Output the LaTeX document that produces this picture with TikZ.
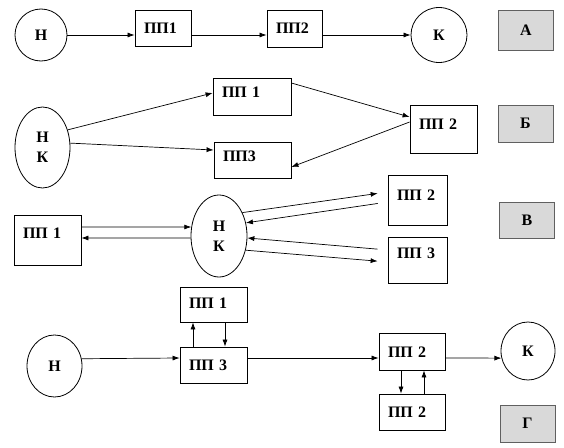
\documentclass[tikz,border=0pt]{standalone}
\usepackage{fontspec}
\setmainfont{Liberation Serif}
\usetikzlibrary{arrows.meta,shapes.geometric}

\tikzset{
  pp/.style n args={3}{draw, line width=0.8pt, inner xsep=9pt, inner ysep=0pt, align=left,
    text width=#1, text height=#2, text depth=#3},
  ell/.style={draw, line width=0.8pt, ellipse, inner sep=0pt, align=center},
  tag/.style={draw=gray!75!black, line width=0.8pt, fill=gray!30, inner sep=0pt},
  arr/.style={-{Latex[length=7pt,width=5pt]}, line width=0.7pt}
}

\begin{document}
\begin{tikzpicture}[x=1pt, y=-1pt, every node/.style={font=\bfseries\fontsize{16}{20}\selectfont}]
            \fill[white] (0,0) rectangle (564,447);

            % Row A
            \node[ell, minimum width=52pt, minimum height=52pt] (hA) at (41,35) {Н};
            \node[pp={38pt}{23pt}{13pt}] (p1A) at (163,28) {ПП1};
            \node[pp={37pt}{23.5pt}{13.5pt}] (p2A) at (294.5,28.5) {ПП2};
            \node[ell, minimum width=56pt, minimum height=55pt] (kA) at (439,35) {К};
            \node[tag, minimum width=55pt, minimum height=40pt] (tA) at (526,30) {А};

            \draw[arr] (hA.east) -- ([yshift=-7pt]p1A.west);
            \draw[arr] ([yshift=-7pt]p1A.east) -- ([yshift=-6.5pt]p2A.west);
            \draw[arr] ([yshift=-6.5pt]p2A.east) -- (kA.west);

            % Row B
            \node[ell, minimum width=55pt, minimum height=81pt] (hkB) at (42.5,147.5) {Н\\К};
            \node[pp={60pt}{19pt}{18pt}] (p1B) at (252,96.5) {ПП 1};
            \node[pp={59pt}{19pt}{17pt}] (p3B) at (252.5,160) {ПП3};
            \node[pp={49pt}{24pt}{24pt}] (p2B) at (443.5,129) {ПП 2};
            \node[tag, minimum width=55pt, minimum height=37pt] (tB) at (525.5,123.5) {Б};

            \draw[arr] (hkB.35) -- ([yshift=3.5pt]p1B.west);
            \draw[arr] (hkB.9) -- ([yshift=10pt]p3B.west);
            \draw[arr] ([yshift=13.5pt]p1B.east) -- ([yshift=12pt]p2B.west);
            \draw[arr] ([yshift=7pt]p2B.west) -- ([yshift=-7pt]p3B.east);

            % Row V
            \node[pp={49pt}{23pt}{27pt}] (p1C) at (47.5,240) {ПП 1};
            \node[ell, minimum width=56pt, minimum height=82pt] (hkC) at (219,236) {Н\\К};
            \node[pp={41pt}{25pt}{25pt}] (p2C) at (417.5,200) {ПП 2};
            \node[pp={41pt}{21pt}{25pt}] (p3C) at (417.5,260) {ПП 3};
            \node[tag, minimum width=55pt, minimum height=36pt] (tC) at (527,220) {В};

            \draw[arr] ([yshift=13pt]p1C.east) -- (hkC.162);
            \draw[arr] (hkC.184) -- ([yshift=2pt]p1C.east);
            \draw[arr, shorten >=10pt] (hkC.45) -- ([yshift=8pt]p2C.west);
            \draw[arr, shorten <=10pt] ([yshift=-2pt]p2C.west) -- (hkC.26);
            \draw[arr, shorten <=10pt] ([yshift=10pt]p3C.west) -- (hkC.-4);
            \draw[arr, shorten >=10pt] (hkC.-28) -- ([yshift=-2pt]p3C.west);

            % Row G
            \node[pp={49pt}{21pt}{14pt}] (p1G) at (213.5,304.5) {ПП 1};
            \node[pp={49pt}{23pt}{13pt}] (p3G) at (213.5,365) {ПП 3};
            \node[ell, minimum width=55pt, minimum height=62pt] (hG) at (54.5,366) {Н};
            \node[pp={48pt}{24.5pt}{12.5pt}] (p2Ga) at (412,351.5) {ПП 2};
            \node[pp={48pt}{23pt}{13pt}] (p2Gb) at (412,412) {ПП 2};
            \node[ell, minimum width=54pt, minimum height=58pt] (kG) at (528,351) {К};
            \node[tag, minimum width=55pt, minimum height=37pt] (tG) at (527.5,423.5) {Г};

            \draw[arr] (hG.15) -- ([yshift=7pt]p3G.west);
            \draw[arr] ([yshift=7pt]p3G.east) -- ([yshift=-6.5pt]p2Ga.west);
            \draw[arr] ([yshift=-6.5pt]p2Ga.east) -- (kG.195);
            \draw[arr] ([xshift=-20.5pt]p3G.north) -- ([xshift=-20.5pt]p1G.south);
            \draw[arr] ([xshift=11.5pt]p1G.south) -- ([xshift=11.5pt]p3G.north);
            \draw[arr] ([xshift=-11pt]p2Ga.south) -- ([xshift=-11pt]p2Gb.north);
            \draw[arr] ([xshift=12pt]p2Gb.north) -- ([xshift=12pt]p2Ga.south);
\end{tikzpicture}
\end{document}
